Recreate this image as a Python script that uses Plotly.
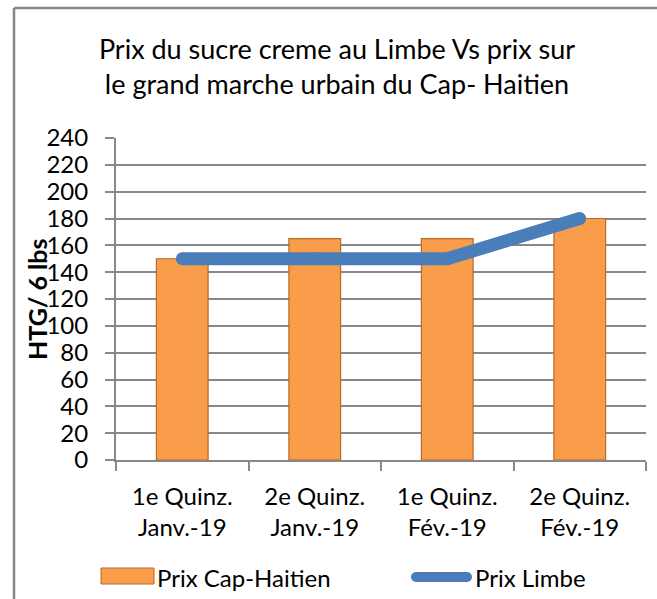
import plotly.graph_objects as go

categories = ["1e Quinz.<br>Janv.-19", "2e Quinz.<br>Janv.-19", "1e Quinz.<br>Fév.-19", "2e Quinz.<br>Fév.-19"]
prix_cap_haitien = [150, 165, 165, 180]
prix_limbe = [150, 150, 150, 180]
y_ticks = list(range(0, 241, 20))

W, H = 657, 599
L, R, T, B = 116, 646, 138, 460  # plot area in pixels
pw, ph = R - L, B - T


def px(x):
    return (x - L) / pw


def py(y):
    return (B - y) / ph


FONT = "Lato"
GRID = "#888888"

fig = go.Figure()
fig.add_trace(go.Bar(
    x=categories, y=prix_cap_haitien, name="Prix Cap-Haitien",
    marker=dict(color="#FA9D4B", line=dict(color="#B8692A", width=1.2)),
    width=0.39, showlegend=False,
))
fig.add_trace(go.Scatter(
    x=categories, y=prix_limbe, name="Prix Limbe", mode="lines+markers",
    line=dict(color="#4A7EBB", width=13),
    marker=dict(color="#4A7EBB", size=13, line=dict(width=0)),
    showlegend=False,
))

shapes = [
    # outer frame (top + left)
    dict(type="line", xref="paper", yref="paper", x0=px(14), x1=px(660), y0=py(8), y1=py(8),
         line=dict(color=GRID, width=2.5)),
    dict(type="line", xref="paper", yref="paper", x0=px(14), x1=px(14), y0=py(8), y1=py(602),
         line=dict(color=GRID, width=2.5)),
    # legend: bar icon
    dict(type="rect", xref="paper", yref="paper", x0=px(101), x1=px(154), y0=py(584), y1=py(568),
         fillcolor="#FA9D4B", line=dict(color="#B8692A", width=1)),
    # legend: line icon
    dict(type="line", xref="paper", yref="paper", x0=px(416), x1=px(467), y0=py(577), y1=py(577),
         line=dict(color="#4A7EBB", width=10)),
    dict(type="circle", xref="paper", yref="paper", x0=px(411), x1=px(421), y0=py(582), y1=py(572),
         fillcolor="#4A7EBB", line=dict(width=0)),
    dict(type="circle", xref="paper", yref="paper", x0=px(462), x1=px(472), y0=py(582), y1=py(572),
         fillcolor="#4A7EBB", line=dict(width=0)),
]

annotations = [
    dict(text="Prix Cap-Haitien", xref="paper", yref="paper", x=px(155), y=py(577),
         xanchor="left", yanchor="middle", showarrow=False, font=dict(family=FONT, size=24, color="black")),
    dict(text="Prix Limbe", xref="paper", yref="paper", x=px(473), y=py(577),
         xanchor="left", yanchor="middle", showarrow=False, font=dict(family=FONT, size=24, color="black")),
    dict(text="<b>HTG/ 6 lbs</b>", xref="paper", yref="paper", x=px(37), y=py(299),
         xanchor="center", yanchor="middle", textangle=-90, showarrow=False,
         font=dict(family=FONT, size=25, color="black")),
]

fig.update_layout(
    width=W, height=H,
    margin=dict(l=L, r=W - R, t=T, b=H - B, pad=0),
    paper_bgcolor="white", plot_bgcolor="white",
    font=dict(family=FONT, size=22, color="black"),
    title=dict(text="Prix du sucre creme au Limbe Vs prix sur<br>le grand marche urbain du Cap- Haitien",
               x=px(337), xref="paper", xanchor="center",
               y=1 - 59 / H, yref="container", yanchor="middle",
               font=dict(family=FONT, size=27, color="black")),
    shapes=shapes, annotations=annotations,
    bargap=0.61,
)
fig.update_xaxes(
    type="category", showline=True, linecolor=GRID, linewidth=2,
    ticks="outside", tickson="boundaries", ticklen=9, tickcolor=GRID, tickwidth=2,
    showgrid=False, tickfont=dict(family=FONT, size=24, color="black"),
    ticklabelstandoff=14,
)
fig.update_yaxes(
    range=[0, 240], tickvals=y_ticks, showline=True, linecolor=GRID, linewidth=2,
    ticks="outside", ticklen=9, tickcolor=GRID, tickwidth=2,
    showgrid=True, gridcolor=GRID, gridwidth=2, zeroline=False,
    tickfont=dict(family=FONT, size=24, color="black"),
    ticklabelstandoff=12,
)

fig.write_html("out.html", config={"displayModeBar": False},
               post_script="document.body.style.margin='0';document.body.style.padding='0';")
